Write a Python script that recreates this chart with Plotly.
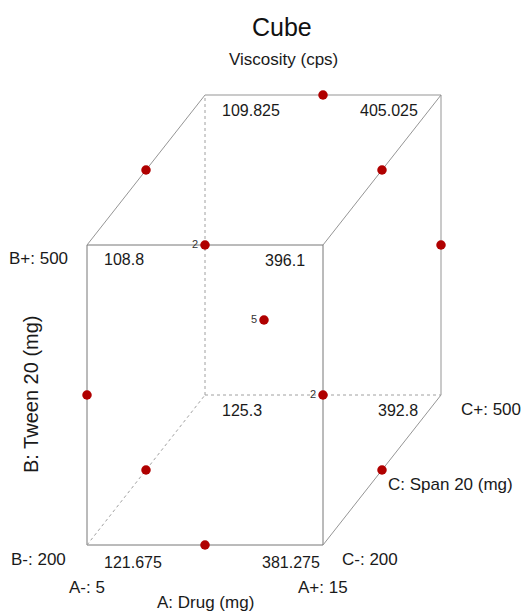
import plotly.graph_objects as go
from collections import Counter

# Factor levels (actual units)
A_levels = [5, 15]        # A: Drug (mg)
B_levels = [200, 500]     # B: Tween 20 (mg)
C_levels = [200, 500]     # C: Span 20 (mg)

# Predicted viscosity at the cube corners, coded (A, B, C)
corner_A = [-1, 1, -1, 1, -1, 1, -1, 1]
corner_B = [-1, -1, 1, 1, -1, -1, 1, 1]
corner_C = [-1, -1, -1, -1, 1, 1, 1, 1]
corner_vals = [121.675, 381.275, 108.8, 396.1, 125.3, 392.8, 109.825, 405.025]

# Box-Behnken design runs (coded), including 5 centre points
run_A = [-1, 1, -1, 1, -1, 1, -1, 1, 0, 0, 0, 0, 0, 0, 0, 0, 0]
run_B = [-1, -1, 1, 1, 0, 0, 0, 0, -1, 1, -1, 1, 0, 0, 0, 0, 0]
run_C = [0, 0, 0, 0, -1, -1, 1, 1, -1, -1, 1, 1, 0, 0, 0, 0, 0]

# Oblique projection of the depth (C) axis
DX, DY = 0.5, 0.5


def proj(a, b, c):
    return a + DX * c, b + DY * c


FONT = "Liberation Sans, Arial, Helvetica, sans-serif"
FRONT = "#777777"
BACK = "#959595"
DOT_COLOR = "#a0a0a0"
MARK = "#b00000"

fig = go.Figure()


def edge(p, q, color, dash="solid"):
    x0, y0 = proj(*p)
    x1, y1 = proj(*q)
    fig.add_trace(go.Scatter(x=[x0, x1], y=[y0, y1], mode="lines",
                             line=dict(color=color, width=1, dash=dash),
                             hoverinfo="skip", showlegend=False))


# Front face (C = -1)
edge((-1, -1, -1), (1, -1, -1), FRONT)
edge((1, -1, -1), (1, 1, -1), FRONT)
edge((1, 1, -1), (-1, 1, -1), FRONT)
edge((-1, 1, -1), (-1, -1, -1), FRONT)
# Visible back edges
edge((-1, 1, 1), (1, 1, 1), BACK)
edge((1, 1, 1), (1, -1, 1), BACK)
edge((-1, 1, -1), (-1, 1, 1), BACK)
edge((1, 1, -1), (1, 1, 1), BACK)
edge((1, -1, -1), (1, -1, 1), BACK)
# Hidden edges
edge((-1, -1, 1), (-1, 1, 1), DOT_COLOR, "dot")
edge((-1, -1, 1), (1, -1, 1), DOT_COLOR, "dot")
edge((-1, -1, -1), (-1, -1, 1), DOT_COLOR, "dot")

# Design points, grouped by projected position
pts = [proj(a, b, c) for a, b, c in zip(run_A, run_B, run_C)]
counts = Counter((round(x, 6), round(y, 6)) for x, y in pts)
fig.add_trace(go.Scatter(x=[k[0] for k in counts], y=[k[1] for k in counts],
                         mode="markers",
                         marker=dict(color=MARK, size=9.5, line=dict(width=0)),
                         hoverinfo="skip", showlegend=False))

annotations = []


def label(x, y, text, size=16, xanchor="center", xs=0, ys=0, angle=0, color="#1a1a1a"):
    annotations.append(dict(x=x, y=y, xref="x", yref="y", text=text, showarrow=False,
                            xanchor=xanchor, yanchor="middle", xshift=xs, yshift=ys,
                            textangle=angle, font=dict(family=FONT, size=size, color=color)))


for (x, y), n in counts.items():
    if n > 1:
        label(x, y, str(n), size=11, xanchor="right", xs=-5, ys=1, color="#333333")

# Corner values: offsets per corner in the same order as corner_vals
corner_offsets = [(15, -17, "left"), (-1, -17, "right"), (15, -14, "left"), (-16, -15, "right"),
                  (15, -15, "left"), (-21, -15, "right"), (15, -15, "left"), (-21, -15, "right")]
for a, b, c, v, (xs, ys, anc) in zip(corner_A, corner_B, corner_C, corner_vals, corner_offsets):
    x, y = proj(a, b, c)
    label(x, y, f"{v:g}", size=16, xanchor=anc, xs=xs, ys=ys)

# Factor levels and names
x, y = proj(-1, 1, -1)
label(x, y, f"B+: {B_levels[1]}", size=17, xanchor="right", xs=-17, ys=-13)
x, y = proj(-1, -1, -1)
label(x, y, f"B-: {B_levels[0]}", size=17, xanchor="right", xs=-19, ys=-14)
label(x, y, f"A-: {A_levels[0]}", size=17, ys=-42)
x, y = proj(1, -1, -1)
label(x, y, f"A+: {A_levels[1]}", size=17, ys=-42)
label(x, y, f"C-: {C_levels[0]}", size=17, xanchor="left", xs=17, ys=-14)
x, y = proj(1, -1, 1)
label(x, y, f"C+: {C_levels[1]}", size=17, xanchor="left", xs=18, ys=-14)
x, y = proj(0, -1, -1)
label(x, y, "A: Drug (mg)", size=17, ys=-57)
x, y = proj(1, -1, 0)
label(x, y, "C: Span 20 (mg)", size=17, xanchor="left", xs=4, ys=-14)
x, y = proj(-1, 0, -1)
label(x, y, "B: Tween 20 (mg)", size=20, xs=-56, angle=-90)

# Title and response name
annotations.append(dict(x=282 / 522, y=1 - 27 / 613, xref="paper", yref="paper", text="Cube",
                        showarrow=False, xanchor="center", yanchor="middle",
                        font=dict(family=FONT, size=25, color="#111111")))
annotations.append(dict(x=283 / 522, y=1 - 59 / 613, xref="paper", yref="paper",
                        text="Viscosity (cps)", showarrow=False, xanchor="center", yanchor="middle",
                        font=dict(family=FONT, size=17, color="#1a1a1a")))

fig.update_layout(
    width=522, height=613, autosize=False,
    margin=dict(l=0, r=0, t=0, b=0),
    paper_bgcolor="white", plot_bgcolor="white",
    xaxis=dict(range=[-264 / 118, (522 - 264) / 118], visible=False, fixedrange=True),
    yaxis=dict(range=[(320 - 613) / 150, 320 / 150], visible=False, fixedrange=True),
    annotations=annotations,
    showlegend=False,
)

fig.write_html("out.html")
